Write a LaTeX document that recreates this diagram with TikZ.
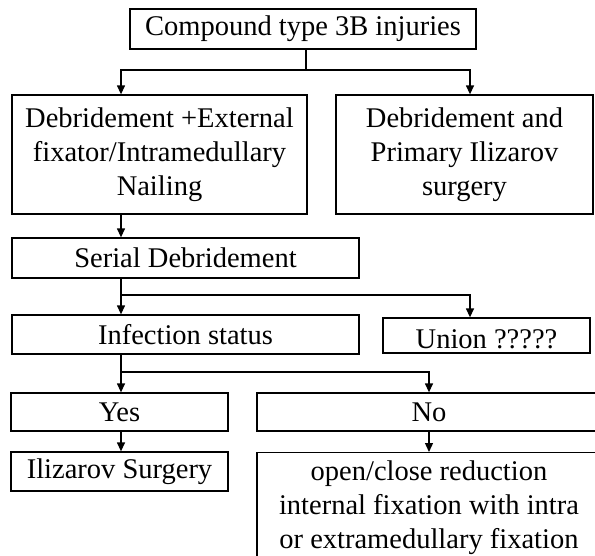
\documentclass[tikz,border=0pt]{standalone}
\usepackage{fontspec}
\setmainfont{Liberation Serif}
\usetikzlibrary{arrows.meta}
\begin{document}
\begin{tikzpicture}[x=1pt,y=1pt,
  box/.style={draw=black, line width=1.3pt, inner sep=0pt, align=center, font=\fontsize{28.5}{34}\selectfont},
  arr/.style={line width=1.3pt, -{Triangle[length=9pt,width=8pt]}},
  ln/.style={line width=1.3pt}]
\useasboundingbox (0,0) rectangle (595,-555);
\clip (0,0) rectangle (595,-555);
\node[box, minimum width=346pt, minimum height=40pt] (top) at (303,-29) {Compound type 3B injuries};
\node[box, minimum width=295pt, minimum height=119pt] (left) at (159.5,-154.5) {Debridement +External\\fixator/Intramedullary\\Nailing};
\node[box, minimum width=257pt, minimum height=119pt] (right) at (464.5,-154.5) {Debridement and\\Primary Ilizarov\\surgery};
\node[box, minimum width=347pt, minimum height=40pt] (serial) at (185.5,-258) {Serial Debridement};
\node[box, minimum width=347pt, minimum height=39pt] (infect) at (185.5,-334.5) {Infection status};
\node[box, minimum width=207pt, minimum height=35pt, text height=25pt, text depth=0pt] (union) at (486.5,-335.5) {Union ?????};
\node[box, minimum width=217pt, minimum height=38pt] (yes) at (119.5,-412) {Yes};
\node[box, minimum width=344pt, minimum height=38pt] (no) at (429,-412) {No};
\node[box, minimum width=217pt, minimum height=39pt] (iliz) at (119.5,-471.5) {Ilizarov Surgery};
\node[box, minimum width=344pt, minimum height=110pt, anchor=north] (open) at (429,-452) {open/close reduction\\internal fixation with intra\\or extramedullary fixation};
\coordinate (cT) at (306,0);
\coordinate (cA) at (121,0);
\coordinate (cB) at (470,0);
\coordinate (cC) at (429,0);
\coordinate (r1) at (0,-70);
\coordinate (r2) at (0,-295);
\coordinate (r3) at (0,-372);
\draw[ln] (top.south -| cT) -- (cT |- r1);
\draw[arr] (cT |- r1) -| (left.north -| cA);
\draw[arr] (cT |- r1) -| (right.north -| cB);
\draw[arr] (left.south -| cA) -- (serial.north -| cA);
\draw[ln] (serial.south -| cA) -- (cA |- r2);
\draw[arr] (cA |- r2) -- (infect.north -| cA);
\draw[arr] (cA |- r2) -| (union.north -| cB);
\draw[ln] (infect.south -| cA) -- (cA |- r3);
\draw[arr] (cA |- r3) -- (yes.north -| cA);
\draw[arr] (cA |- r3) -| (no.north -| cC);
\draw[arr] (yes.south -| cA) -- (iliz.north -| cA);
\draw[arr] (no.south -| cC) -- (open.north -| cC);
\end{tikzpicture}
\end{document}
